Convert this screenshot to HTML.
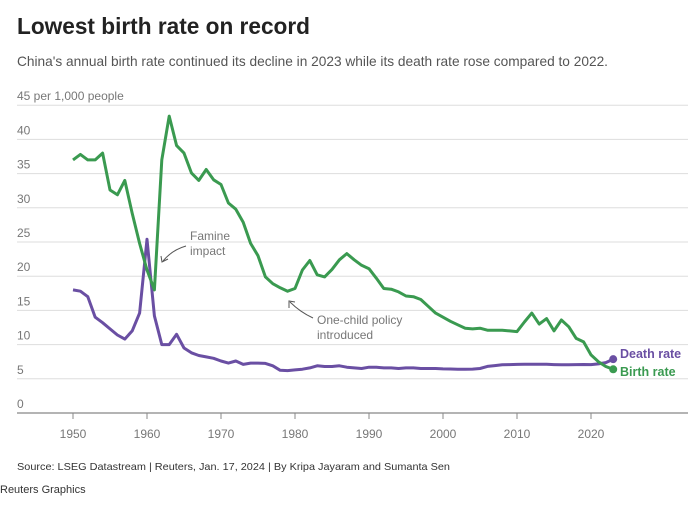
<!DOCTYPE html>
<html><head><meta charset="utf-8"><style>
body{margin:0;width:699px;height:505px;background:#fff;font-family:"Liberation Sans",sans-serif;overflow:hidden}
</style></head><body>
<svg width="699" height="505" xmlns="http://www.w3.org/2000/svg" font-family="Liberation Sans, sans-serif">
<text x="17" y="34" font-size="23" font-weight="bold" fill="#222" textLength="293" lengthAdjust="spacingAndGlyphs">Lowest birth rate on record</text>
<text x="17" y="66" font-size="14" fill="#555" textLength="591" lengthAdjust="spacingAndGlyphs">China's annual birth rate continued its decline in 2023 while its death rate rose compared to 2022.</text>
<g id="grid" stroke="#ddd" stroke-width="1"></g>
<g id="ylab" font-size="12" fill="#777"></g>
<line x1="17" y1="413" x2="688" y2="413" stroke="#888" stroke-width="1.2"/>
<g id="xt" font-size="12" fill="#777" text-anchor="middle"></g>
<polyline id="death" fill="none" stroke="#6a4fa3" stroke-width="3" stroke-linejoin="round"/>
<polyline id="birth" fill="none" stroke="#3a9a50" stroke-width="3" stroke-linejoin="round"/>
<circle id="dd" r="4" fill="#6a4fa3"/><circle id="bd" r="4" fill="#3a9a50"/>
<text x="620" y="358" font-size="12.5" font-weight="bold" fill="#6a4fa3">Death rate</text>
<text x="620" y="376" font-size="12.5" font-weight="bold" fill="#3a9a50">Birth rate</text>
<text x="190" y="240" font-size="12" fill="#777">Famine</text>
<text x="190" y="255" font-size="12" fill="#777">impact</text>
<path d="M186 246 Q172 250 163 261" fill="none" stroke="#555" stroke-width="1"/>
<path d="M161 256 L162 262 L168 259" fill="none" stroke="#555" stroke-width="1"/>
<text x="317" y="324" font-size="12" fill="#777">One-child policy</text>
<text x="317" y="339" font-size="12" fill="#777">introduced</text>
<path d="M313 318 Q300 312 290 302" fill="none" stroke="#555" stroke-width="1"/>
<path d="M289 308 L289 301 L295 302" fill="none" stroke="#555" stroke-width="1"/>
<text x="17" y="470" font-size="10.5" fill="#333" textLength="433" lengthAdjust="spacingAndGlyphs">Source: LSEG Datastream | Reuters, Jan. 17, 2024 | By Kripa Jayaram and Sumanta Sen</text>
<text x="0" y="493" font-size="11" fill="#333">Reuters Graphics</text>
</svg>
<script>
var X=function(y){return 73+(y-1950)*7.4},Y=function(v){return 413-v*6.84};
var ns="http://www.w3.org/2000/svg";
function el(p,t,a,txt){var e=document.createElementNS(ns,t);for(var k in a)e.setAttribute(k,a[k]);if(txt)e.textContent=txt;document.getElementById(p).appendChild(e);}
for(var v=5;v<=45;v+=5){el("grid","line",{x1:17,x2:688,y1:Y(v),y2:Y(v)});}
for(var v=0;v<=45;v+=5){el("ylab","text",{x:17,y:Y(v)-5},v==45?"45 per 1,000 people":String(v));}
for(var yr=1950;yr<=2020;yr+=10){el("xt","line",{x1:X(yr),x2:X(yr),y1:413,y2:419,stroke:"#888"});el("xt","text",{x:X(yr),y:438},String(yr));}
var b=[37,37.8,37,37,38,32.6,31.9,34,29.2,24.8,20.9,18,37,43.4,39.1,38,35.1,34,35.6,34.1,33.4,30.7,29.8,27.9,24.8,23,19.9,18.9,18.3,17.8,18.2,20.9,22.3,20.2,19.9,21,22.4,23.3,22.4,21.6,21.1,19.7,18.2,18.1,17.7,17.1,17,16.6,15.6,14.6,14,13.4,12.9,12.4,12.3,12.4,12.1,12.1,12.1,12,11.9,13.3,14.6,13,13.8,12,13.6,12.6,10.9,10.4,8.5,7.5,6.8,6.39];
var d=[18,17.8,17,14,13.2,12.3,11.4,10.8,12,14.6,25.4,14.2,10,10,11.5,9.5,8.8,8.4,8.2,8,7.6,7.3,7.6,7.1,7.3,7.3,7.25,6.9,6.25,6.2,6.3,6.4,6.6,6.9,6.8,6.8,6.9,6.7,6.6,6.5,6.7,6.7,6.6,6.6,6.5,6.6,6.6,6.5,6.5,6.5,6.45,6.43,6.41,6.4,6.42,6.51,6.81,6.93,7.06,7.08,7.11,7.14,7.13,7.13,7.12,7.07,7.04,7.06,7.08,7.09,7.07,7.18,7.37,7.87];
function pts(a){return a.map(function(v,i){return X(1950+i).toFixed(1)+","+Y(v).toFixed(1)}).join(" ")}
document.getElementById("birth").setAttribute("points",pts(b));
document.getElementById("death").setAttribute("points",pts(d));
var bd=document.getElementById("bd"),dd=document.getElementById("dd");
bd.setAttribute("cx",X(2023));bd.setAttribute("cy",Y(6.39));
dd.setAttribute("cx",X(2023));dd.setAttribute("cy",Y(7.87));
</script>
</body></html>
